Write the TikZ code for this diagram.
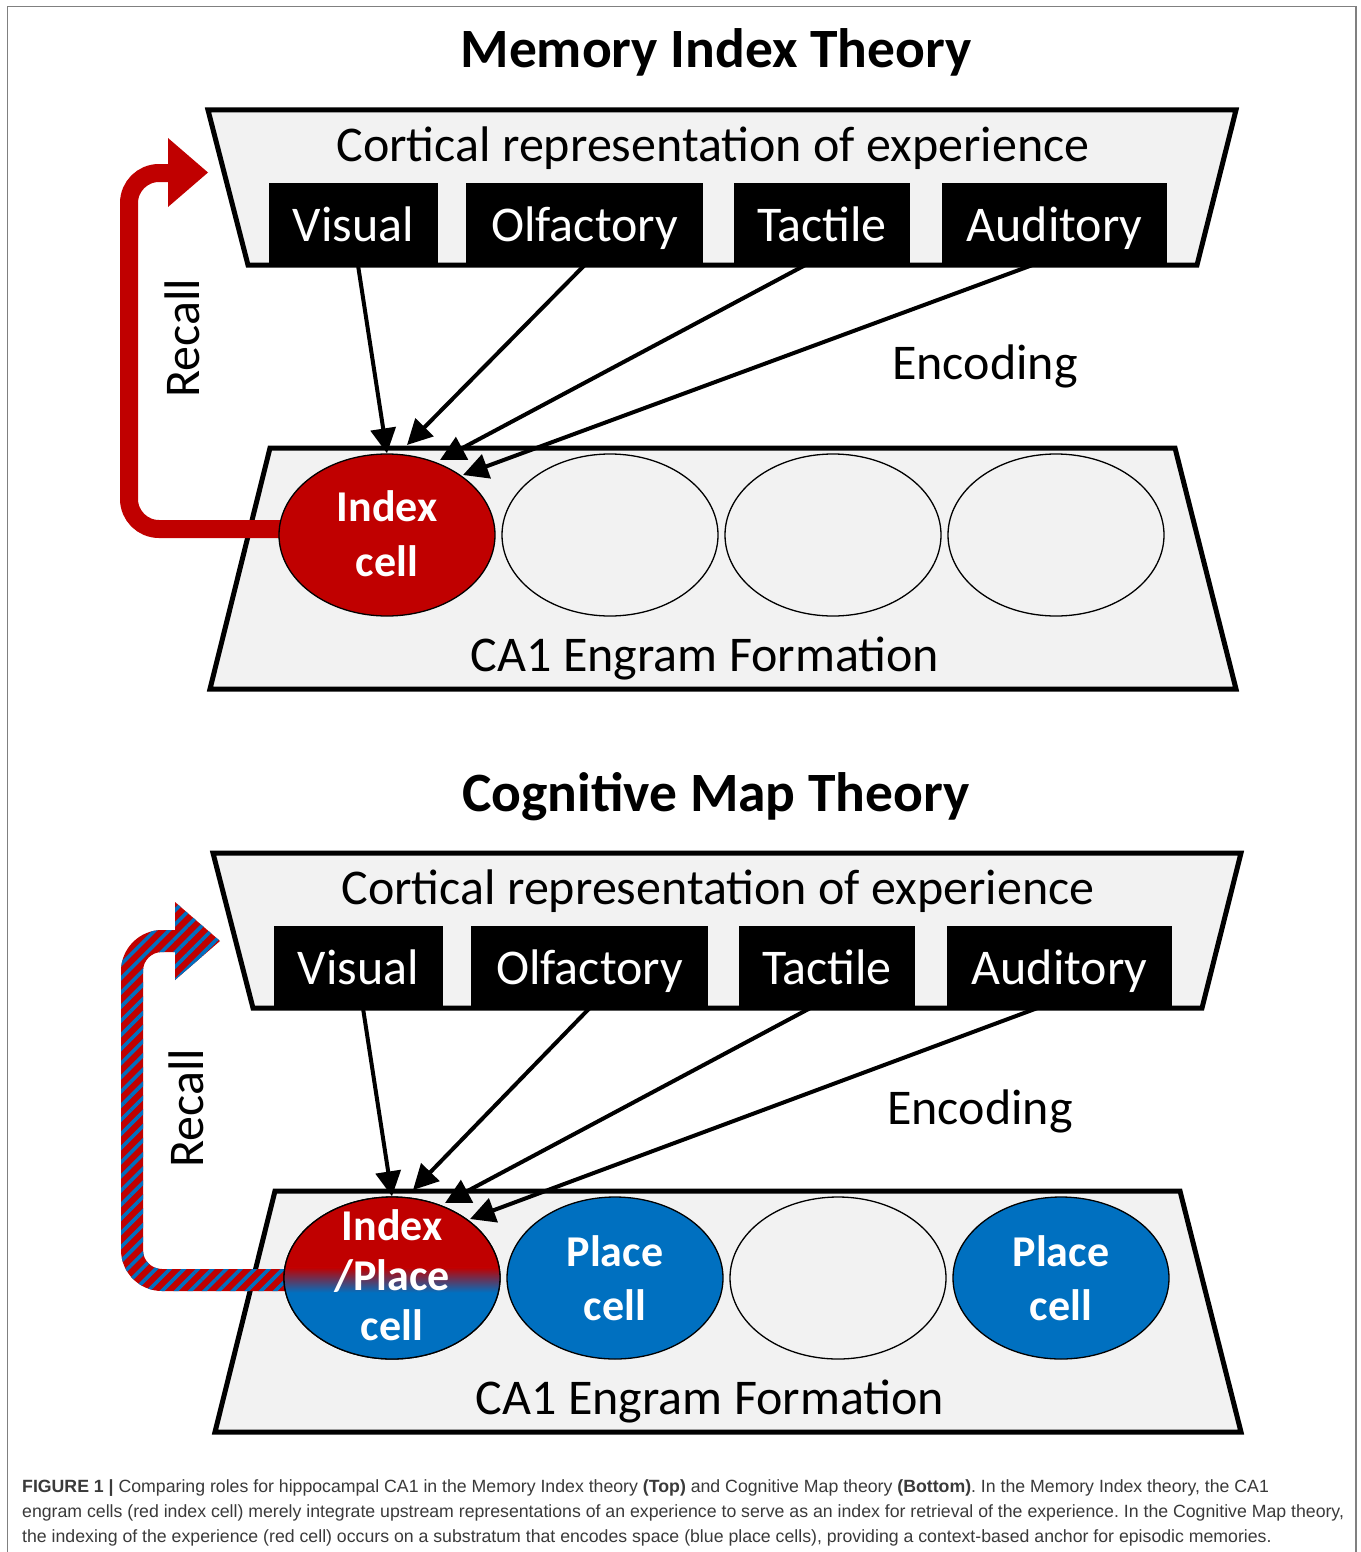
\documentclass[tikz,border=0pt]{standalone}
\usepackage{fontspec}
\setmainfont{Carlito}
\newfontfamily\capfont{Liberation Sans}
\usetikzlibrary{arrows.meta,shapes.geometric,patterns.meta,calc}
\definecolor{cred}{HTML}{C00000}
\definecolor{cblue}{HTML}{0070C0}
\definecolor{cgray}{HTML}{F2F2F2}
\definecolor{framegray}{HTML}{808080}
\definecolor{captext}{HTML}{3A3A3A}
\frenchspacing
\begin{document}
\begin{tikzpicture}[x=1pt,y=-1pt,
 trap/.style={fill=cgray, draw=black, line width=5pt, line join=miter},
 modbox/.style={fill=black, inner sep=0, minimum height=82pt},
 modtxt/.style={text=white, font=\fontsize{50}{60}\selectfont, anchor=base, inner sep=0},
 bigtxt/.style={font=\fontsize{50}{60}\selectfont, anchor=base, inner sep=0},
 titletxt/.style={font=\bfseries\fontsize{55.5}{66}\selectfont, anchor=base, inner sep=0},
 cell/.style={ellipse, draw=black, line width=1.3pt, minimum width=216pt, minimum height=162pt, inner sep=0},
 celltxt/.style={text=white, font=\bfseries\fontsize{44}{53}\selectfont, anchor=base, inner sep=0},
 enc/.style={line width=4pt, -{Triangle[length=25pt,width=25pt]}},
 recalltxt/.style={font=\fontsize{50}{60}\selectfont, rotate=90, inner sep=0},
 captxt/.style={font=\capfont\fontsize{17.7}{20}\selectfont, text=captext, anchor=base west, inner sep=0},
]
\useasboundingbox[fill=white] (0,0) rectangle (1360,1552);
\draw[framegray, line width=1.5pt] (7.5,1570) -- (7.5,6.5) -- (1356,6.5) -- (1356,1570);

% ---------------- top panel ----------------
\node[titletxt] (t1) at (716,68) {Memory Index Theory};
\draw[trap] (208,110) -- (1236,110) -- (1197,265) -- (248,265) -- cycle;
\node[bigtxt] (cr1) at (713,161) {Cortical representation of experience};
\node[modbox, minimum width=169pt] (vis1) at (353.5,224) {};
\node[modbox, minimum width=237pt] (olf1) at (584.5,224) {};
\node[modbox, minimum width=176pt] (tac1) at (822,224) {};
\node[modbox, minimum width=225pt] (aud1) at (1054.5,224) {};
\node[modtxt] (vis1t) at (353.5,241) {Visual};
\node[modtxt] (olf1t) at (584.5,241) {Olfactory};
\node[modtxt] (tac1t) at (822,241) {Tactile};
\node[modtxt] (aud1t) at (1054.5,241) {Auditory};
\draw[trap] (270,448) -- (1175,448) -- (1236,689) -- (210,689) -- cycle;
\coordinate (rec1a) at (285,529);
\coordinate (rec1b) at (170,173);
\draw[cred, line width=18pt, rounded corners=30pt] (rec1a) -- (129,529) -- (129,173) -- (rec1b);
\fill[cred] (168,138) -- (208,172.5) -- (168,207) -- cycle;
\node[cell, fill=cred] (ic1) at (387,535) {};
\node[cell, fill=cgray] (e12) at (610,535) {};
\node[cell, fill=cgray] (e13) at (833,535) {};
\node[cell, fill=cgray] (e14) at (1056,535) {};
\node[celltxt] (ic1a) at (387,521) {Index};
\node[celltxt] (ic1b) at (387,576) {cell};
\node[bigtxt] (ca1) at (705,671) {CA1 Engram Formation};
\node[bigtxt] (enc1) at (985,379) {Encoding};
\node[recalltxt] (rc1) at (182,338) {Recall};
\draw[enc] ([xshift=4.5pt]vis1.south) -- (ic1.north);
\draw[enc] (olf1.south) -- ($(ic1.center)+(20,-90)$);
\draw[enc] ([xshift=-17pt]tac1.south) -- ($(ic1.center)+(53,-75)$);
\draw[enc] ([xshift=-22.5pt]aud1.south) -- ($(ic1.center)+(76,-60)$);

% ---------------- bottom panel ----------------
\node[titletxt] (t2) at (716,811) {Cognitive Map Theory};
\draw[trap] (213,853) -- (1241,853) -- (1202,1008) -- (253,1008) -- cycle;
\node[bigtxt] (cr2) at (718,904) {Cortical representation of experience};
\node[modbox, minimum width=169pt] (vis2) at (358.5,967) {};
\node[modbox, minimum width=237pt] (olf2) at (589.5,967) {};
\node[modbox, minimum width=176pt] (tac2) at (827,967) {};
\node[modbox, minimum width=225pt] (aud2) at (1059.5,967) {};
\node[modtxt] (vis2t) at (358.5,984) {Visual};
\node[modtxt] (olf2t) at (589.5,984) {Olfactory};
\node[modtxt] (tac2t) at (827,984) {Tactile};
\node[modtxt] (aud2t) at (1059.5,984) {Auditory};
\draw[trap] (275,1191) -- (1180,1191) -- (1241,1432) -- (215,1432) -- cycle;
% striped recall arrow
\def\recpath{(290,1291) -- (162,1291) .. controls (139.4,1291) and (121,1272.6) .. (121,1250)
  -- (121,971) .. controls (121,948.4) and (139.4,930) .. (162,930)
  -- (175,930) -- (175,902) -- (220,941) -- (175,980) -- (175,952) -- (162,952)
  .. controls (151.5,952) and (143,960.5) .. (143,971)
  -- (143,1250) .. controls (143,1260.5) and (151.5,1269) .. (162,1269)
  -- (290,1269) -- cycle}
\fill[cred] \recpath;
\fill[pattern={Lines[angle=45,distance=10pt,line width=3.6pt]}, pattern color=cblue] \recpath;
\node[cell] (ip) at (392,1278) {};
\begin{scope}
\clip (392,1278) ellipse [x radius=108, y radius=81];
\fill[cred] (280,1190) rectangle (510,1268);
\fill[cblue] (280,1292) rectangle (510,1370);
\shade[top color=cred, bottom color=cblue] (280,1267.5) rectangle (510,1292.5);
\end{scope}
\draw[line width=1.3pt] (ip.center) ellipse [x radius=108, y radius=81];
\node[cell, fill=cblue] (p22) at (615,1278) {};
\node[cell, fill=cgray] (e23) at (838,1278) {};
\node[cell, fill=cblue] (p24) at (1061,1278) {};
\node[celltxt] (ipa) at (392,1240) {Index};
\node[celltxt] (ipb) at (392,1290) {/Place};
\node[celltxt] (ipc) at (392,1340) {cell};
\node[celltxt] (p22a) at (615,1266) {Place};
\node[celltxt] (p22b) at (615,1320) {cell};
\node[celltxt] (p24a) at (1061,1266) {Place};
\node[celltxt] (p24b) at (1061,1320) {cell};
\node[bigtxt] (ca2) at (710,1414) {CA1 Engram Formation};
\node[bigtxt] (enc2) at (980,1124) {Encoding};
\node[recalltxt] (rc2) at (186,1108) {Recall};
\draw[enc] ([xshift=4.5pt]vis2.south) -- (ip.north);
\draw[enc] (olf2.south) -- ($(ip.center)+(21,-88)$);
\draw[enc] ([xshift=-17pt]tac2.south) -- ($(ip.center)+(53,-75)$);
\draw[enc] ([xshift=-22.5pt]aud2.south) -- ($(ip.center)+(78,-59)$);

% ---------------- caption ----------------
\node[captxt] (cap1) at (22,1492) {{\bfseries FIGURE 1 |} Comparing roles for hippocampal CA1 in the Memory Index theory {\bfseries (Top)} and Cognitive Map theory {\bfseries (Bottom)}. In the Memory Index theory, the CA1};
\node[captxt] (cap2) at (22,1517) {engram cells (red index cell) merely integrate upstream representations of an experience to serve as an index for retrieval of the experience. In the Cognitive Map theory,};
\node[captxt] (cap3) at (22,1542) {the indexing of the experience (red cell) occurs on a substratum that encodes space (blue place cells), providing a context-based anchor for episodic memories.};
\end{tikzpicture}
\end{document}
